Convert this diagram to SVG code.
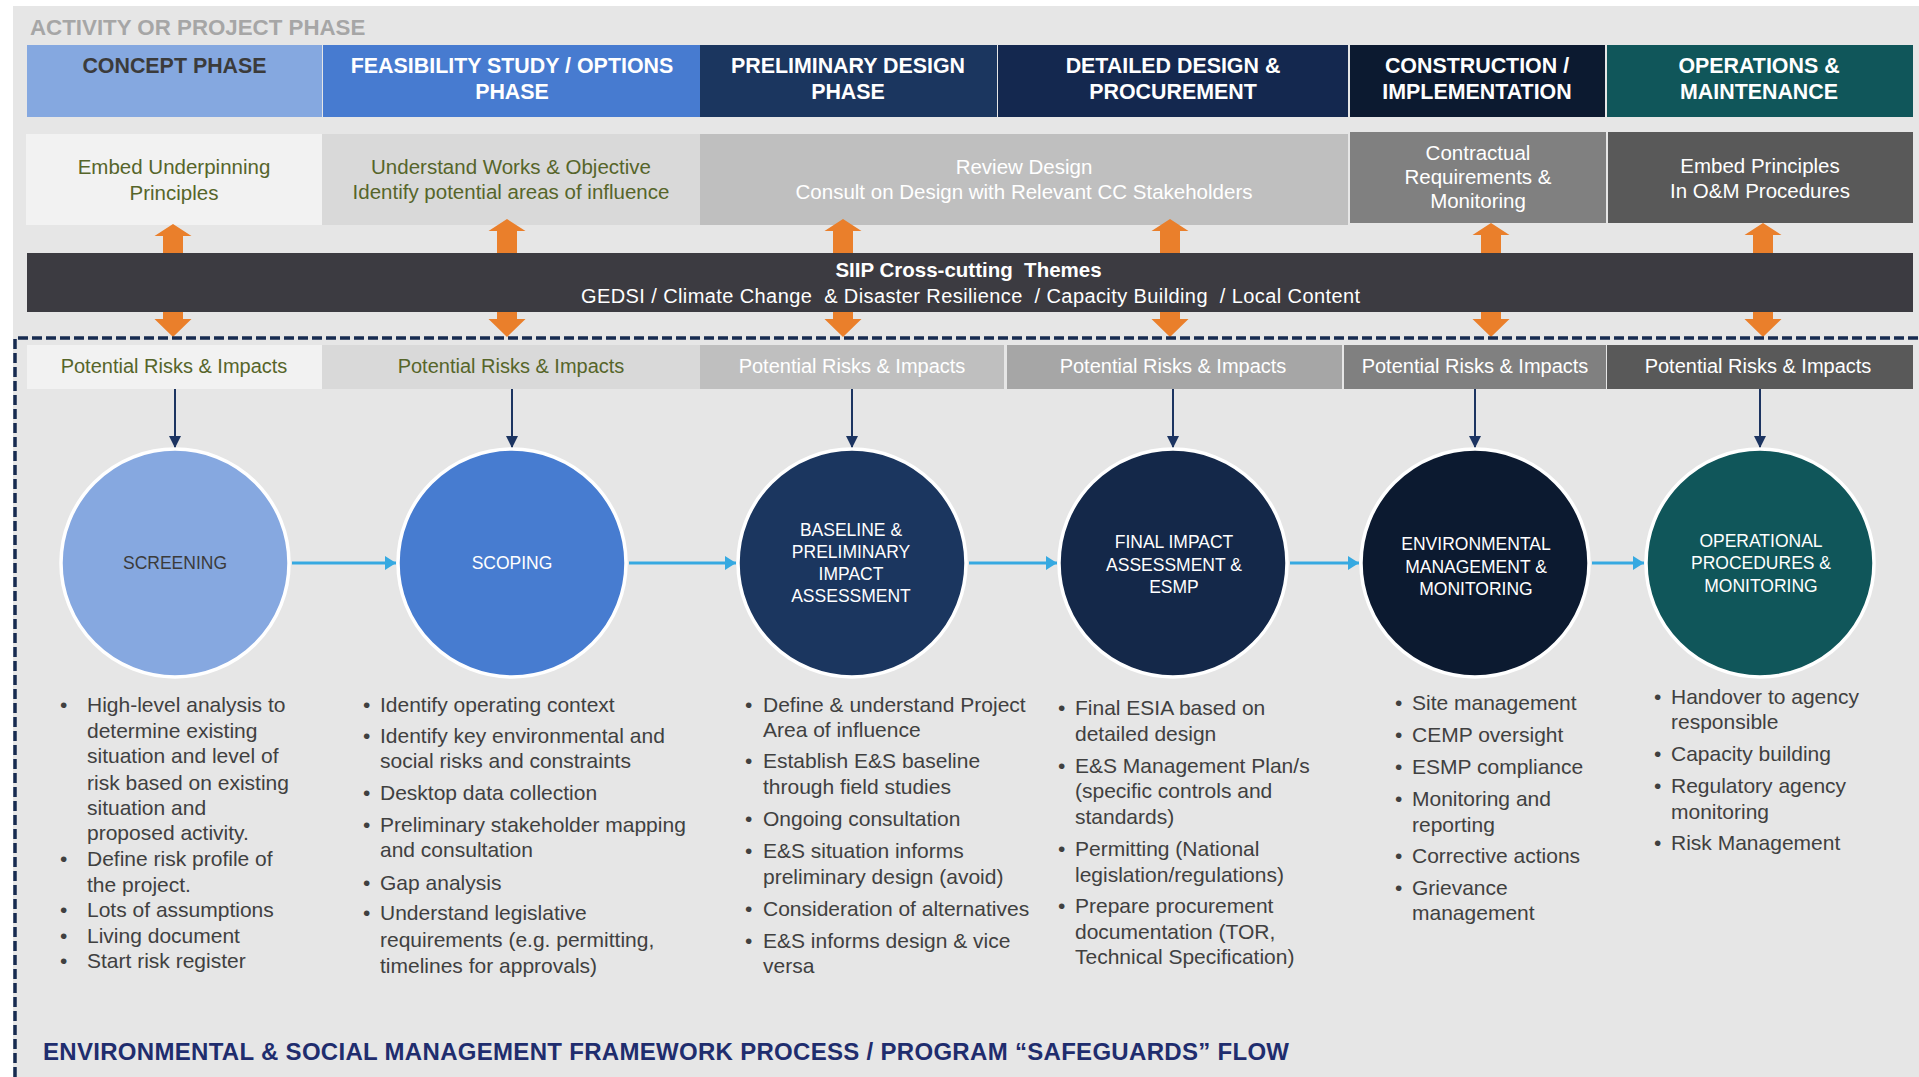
<svg xmlns="http://www.w3.org/2000/svg" width="1919" height="1077" viewBox="0 0 1919 1077">
  <defs>
    <style>
      text { font-family: "Liberation Sans", Arial, sans-serif; }
      .title { font-size: 22.3px; font-weight: bold; fill: #a6a6a6; }
      .hdr { font-size: 21.4px; font-weight: bold; fill: #ffffff; text-anchor: middle; }
      .hdr.dark { fill: #3b3b3b; }
      .act { font-size: 20.5px; text-anchor: middle; fill: #ffffff; }
      .act.olive { fill: #56652a; }
      .risk { font-size: 20px; text-anchor: middle; fill: #ffffff; }
      .risk.olive { fill: #56652a; }
      .band-h { font-size: 20.5px; font-weight: bold; fill: #ffffff; text-anchor: middle; }
      .band-t { font-size: 20px; fill: #ffffff; text-anchor: middle; }
      .stage { font-size: 17.5px; fill: #ffffff; text-anchor: middle; }
      .stage.dark { fill: #3b3b3b; }
      .ring { stroke: #ffffff; stroke-width: 3.5; }
      .bl { font-size: 21px; fill: #404040; }
      .foot { font-size: 24px; font-weight: bold; fill: #1f2d6e; }
      .theme-arrow { fill: #ea7f2b; }
      .feed { stroke: #1c3461; stroke-width: 2; fill: none; }
      .flow { stroke: #36a9e1; stroke-width: 3; fill: none; }
      .frame { stroke: #172b50; stroke-width: 3.5; stroke-dasharray: 10 4; fill: none; }
    </style>
    <marker id="navyHead" markerUnits="userSpaceOnUse" markerWidth="12" markerHeight="14" refX="12" refY="6" orient="auto">
      <path d="M0,0 L12,6 L0,12 Z" fill="#1c3461"/>
    </marker>
    <marker id="blueHead" markerUnits="userSpaceOnUse" markerWidth="12" markerHeight="14" refX="11" refY="7" orient="auto">
      <path d="M0,0 L11,7 L0,14 Z" fill="#36a9e1"/>
    </marker>
  </defs>

  <!-- page background -->
  <rect x="0" y="0" width="1919" height="1077" fill="#ffffff"/>
  <rect x="13" y="6" width="1906" height="1071" fill="#e6e6e6"/>

  <text class="title" x="30" y="35">ACTIVITY OR PROJECT PHASE</text>

  <!-- phase header row -->
  <g id="phases">
    <g id="phase-concept">
      <rect x="27" y="45" width="295" height="72" fill="#85a8e0"/>
      <text class="hdr dark" x="174.5" y="73">CONCEPT PHASE</text>
    </g>
    <g id="phase-feasibility">
      <rect x="323" y="45" width="377" height="72" fill="#477bd0"/>
      <text class="hdr" x="512" y="73">FEASIBILITY STUDY / OPTIONS</text>
      <text class="hdr" x="512" y="99">PHASE</text>
    </g>
    <g id="phase-preliminary">
      <rect x="700" y="45" width="297" height="72" fill="#1b365f"/>
      <text class="hdr" x="848" y="73">PRELIMINARY DESIGN</text>
      <text class="hdr" x="848" y="99">PHASE</text>
    </g>
    <g id="phase-detailed">
      <rect x="998" y="45" width="350" height="72" fill="#14284f"/>
      <text class="hdr" x="1173" y="73">DETAILED DESIGN &amp;</text>
      <text class="hdr" x="1173" y="99">PROCUREMENT</text>
    </g>
    <g id="phase-construction">
      <rect x="1350" y="45" width="255" height="72" fill="#0c1a30"/>
      <text class="hdr" x="1477" y="73">CONSTRUCTION /</text>
      <text class="hdr" x="1477" y="99">IMPLEMENTATION</text>
    </g>
    <g id="phase-operations">
      <rect x="1607" y="45" width="306" height="72" fill="#10565a"/>
      <text class="hdr" x="1759" y="73">OPERATIONS &amp;</text>
      <text class="hdr" x="1759" y="99">MAINTENANCE</text>
    </g>
  </g>

  <!-- activity row -->
  <g id="activities">
    <g id="act-concept">
      <rect x="26" y="134" width="296" height="91" fill="#f2f2f2"/>
      <text class="act olive" x="174" y="174">Embed Underpinning</text>
      <text class="act olive" x="174" y="200">Principles</text>
    </g>
    <g id="act-feasibility">
      <rect x="322" y="134" width="378" height="91" fill="#d9d9d9"/>
      <text class="act olive" x="511" y="174">Understand Works &amp; Objective</text>
      <text class="act olive" x="511" y="199">Identify potential areas of influence</text>
    </g>
    <g id="act-design">
      <rect x="700" y="134" width="648" height="91" fill="#bfbfbf"/>
      <text class="act" x="1024" y="174">Review Design</text>
      <text class="act" x="1024" y="199">Consult on Design with Relevant CC Stakeholders</text>
    </g>
    <g id="act-construction">
      <rect x="1350" y="132" width="256" height="91" fill="#808080"/>
      <text class="act" x="1478" y="160">Contractual</text>
      <text class="act" x="1478" y="184">Requirements &amp;</text>
      <text class="act" x="1478" y="208">Monitoring</text>
    </g>
    <g id="act-operations">
      <rect x="1608" y="132" width="305" height="91" fill="#595959"/>
      <text class="act" x="1760" y="173">Embed Principles</text>
      <text class="act" x="1760" y="198">In O&amp;M Procedures</text>
    </g>
  </g>

  <!-- cross-cutting themes band with its two-way links -->
  <g id="themes">
    <g id="theme-links">
      <path class="theme-arrow" d="M173,224 L191.5,236 L183,236 L183,253 L163,253 L163,236 L154.5,236 Z M163,312 L183,312 L183,319 L191.5,319 L173,337 L154.5,319 L163,319 Z"/>
      <path class="theme-arrow" d="M507,219 L525.5,231 L517,231 L517,253 L497,253 L497,231 L488.5,231 Z M497,312 L517,312 L517,319 L525.5,319 L507,337 L488.5,319 L497,319 Z"/>
      <path class="theme-arrow" d="M843,219 L861.5,231 L853,231 L853,253 L833,253 L833,231 L824.5,231 Z M833,312 L853,312 L853,319 L861.5,319 L843,337 L824.5,319 L833,319 Z"/>
      <path class="theme-arrow" d="M1170,219 L1188.5,231 L1180,231 L1180,253 L1160,253 L1160,231 L1151.5,231 Z M1160,312 L1180,312 L1180,319 L1188.5,319 L1170,337 L1151.5,319 L1160,319 Z"/>
      <path class="theme-arrow" d="M1491,223 L1509.5,235 L1501,235 L1501,253 L1481,253 L1481,235 L1472.5,235 Z M1481,312 L1501,312 L1501,319 L1509.5,319 L1491,337 L1472.5,319 L1481,319 Z"/>
      <path class="theme-arrow" d="M1763,223 L1781.5,235 L1773,235 L1773,253 L1753,253 L1753,235 L1744.5,235 Z M1753,312 L1773,312 L1773,319 L1781.5,319 L1763,337 L1744.5,319 L1753,319 Z"/>
    </g>
    <rect x="27" y="253" width="1886" height="59" fill="#3c3b41"/>
    <text class="band-h" x="968.5" y="277" xml:space="preserve">SIIP Cross-cutting  Themes</text>
    <text class="band-t" x="970.5" y="303" textLength="779" lengthAdjust="spacing" xml:space="preserve">GEDSI / Climate Change  &amp; Disaster Resilience  / Capacity Building  / Local Content</text>
  </g>

  <!-- safeguards process frame -->
  <path class="frame" d="M15,1077 L15,338 L1919,338"/>

  <!-- risk row -->
  <g id="risks">
    <g id="risk-concept">
      <rect x="27" y="345" width="295" height="44" fill="#f2f2f2"/>
      <text class="risk olive" x="174" y="373">Potential Risks &amp; Impacts</text>
    </g>
    <g id="risk-feasibility">
      <rect x="322" y="345" width="378" height="44" fill="#d9d9d9"/>
      <text class="risk olive" x="511" y="373">Potential Risks &amp; Impacts</text>
    </g>
    <g id="risk-preliminary">
      <rect x="700" y="345" width="304" height="44" fill="#bfbfbf"/>
      <text class="risk" x="852" y="373">Potential Risks &amp; Impacts</text>
    </g>
    <g id="risk-detailed">
      <rect x="1007" y="345" width="335" height="44" fill="#a6a6a6"/>
      <text class="risk" x="1173" y="373">Potential Risks &amp; Impacts</text>
    </g>
    <g id="risk-construction">
      <rect x="1344" y="345" width="262" height="44" fill="#808080"/>
      <text class="risk" x="1475" y="373">Potential Risks &amp; Impacts</text>
    </g>
    <g id="risk-operations">
      <rect x="1607" y="345" width="306" height="44" fill="#595959"/>
      <text class="risk" x="1758" y="373">Potential Risks &amp; Impacts</text>
    </g>
  </g>

  <!-- connectors: risk feeds and stage-to-stage flow -->
  <g id="connectors">
    <line class="feed" x1="175" y1="389" x2="175" y2="448" marker-end="url(#navyHead)"/>
    <line class="feed" x1="512" y1="389" x2="512" y2="448" marker-end="url(#navyHead)"/>
    <line class="feed" x1="852" y1="389" x2="852" y2="448" marker-end="url(#navyHead)"/>
    <line class="feed" x1="1173" y1="389" x2="1173" y2="448" marker-end="url(#navyHead)"/>
    <line class="feed" x1="1475" y1="389" x2="1475" y2="448" marker-end="url(#navyHead)"/>
    <line class="feed" x1="1760" y1="389" x2="1760" y2="448" marker-end="url(#navyHead)"/>

    <line class="flow" x1="292" y1="563" x2="396" y2="563" marker-end="url(#blueHead)"/>
    <line class="flow" x1="629" y1="563" x2="736" y2="563" marker-end="url(#blueHead)"/>
    <line class="flow" x1="969" y1="563" x2="1057" y2="563" marker-end="url(#blueHead)"/>
    <line class="flow" x1="1290" y1="563" x2="1359" y2="563" marker-end="url(#blueHead)"/>
    <line class="flow" x1="1592" y1="563" x2="1644" y2="563" marker-end="url(#blueHead)"/>
  </g>

  <!-- process stages -->
  <g id="stage-screening">
    <circle class="ring" cx="175" cy="563" r="114" fill="#86a8e0"/>
    <text class="stage dark" x="175" y="569">SCREENING</text>
  </g>
  <g id="stage-scoping">
    <circle class="ring" cx="512" cy="563" r="114" fill="#477cd0"/>
    <text class="stage" x="512" y="569">SCOPING</text>
  </g>
  <g id="stage-baseline">
    <circle class="ring" cx="852" cy="563" r="114" fill="#1b365f"/>
    <text class="stage" x="851" y="536">BASELINE &amp;</text>
    <text class="stage" x="851" y="558">PRELIMINARY</text>
    <text class="stage" x="851" y="580">IMPACT</text>
    <text class="stage" x="851" y="602">ASSESSMENT</text>
  </g>
  <g id="stage-final">
    <circle class="ring" cx="1173" cy="563" r="114" fill="#142849"/>
    <text class="stage" x="1174" y="548">FINAL IMPACT</text>
    <text class="stage" x="1174" y="571">ASSESSMENT &amp;</text>
    <text class="stage" x="1174" y="593">ESMP</text>
  </g>
  <g id="stage-emm">
    <circle class="ring" cx="1475" cy="563" r="114" fill="#0c1a30"/>
    <text class="stage" x="1476" y="550">ENVIRONMENTAL</text>
    <text class="stage" x="1476" y="573">MANAGEMENT &amp;</text>
    <text class="stage" x="1476" y="595">MONITORING</text>
  </g>
  <g id="stage-operational">
    <circle class="ring" cx="1760" cy="563" r="114" fill="#10565a"/>
    <text class="stage" x="1761" y="547">OPERATIONAL</text>
    <text class="stage" x="1761" y="569">PROCEDURES &amp;</text>
    <text class="stage" x="1761" y="592">MONITORING</text>
  </g>

  <!-- stage task lists -->
  <g id="tasks-screening">
    <text class="bl" x="60" y="712">•</text>
    <text class="bl" x="87" y="712">High-level analysis to</text>
    <text class="bl" x="87" y="738">determine existing</text>
    <text class="bl" x="87" y="763">situation and level of</text>
    <text class="bl" x="87" y="790">risk based on existing</text>
    <text class="bl" x="87" y="815">situation and</text>
    <text class="bl" x="87" y="840">proposed activity.</text>
    <text class="bl" x="60" y="866">•</text>
    <text class="bl" x="87" y="866">Define risk profile of</text>
    <text class="bl" x="87" y="892">the project.</text>
    <text class="bl" x="60" y="917">•</text>
    <text class="bl" x="87" y="917">Lots of assumptions</text>
    <text class="bl" x="60" y="943">•</text>
    <text class="bl" x="87" y="943">Living document</text>
    <text class="bl" x="60" y="968">•</text>
    <text class="bl" x="87" y="968">Start risk register</text>
  </g>
  <g id="tasks-scoping">
    <text class="bl" x="363" y="712">•</text>
    <text class="bl" x="380" y="712">Identify operating context</text>
    <text class="bl" x="363" y="743">•</text>
    <text class="bl" x="380" y="743">Identify key environmental and</text>
    <text class="bl" x="380" y="768">social risks and constraints</text>
    <text class="bl" x="363" y="800">•</text>
    <text class="bl" x="380" y="800">Desktop data collection</text>
    <text class="bl" x="363" y="832">•</text>
    <text class="bl" x="380" y="832">Preliminary stakeholder mapping</text>
    <text class="bl" x="380" y="857">and consultation</text>
    <text class="bl" x="363" y="890">•</text>
    <text class="bl" x="380" y="890">Gap analysis</text>
    <text class="bl" x="363" y="920">•</text>
    <text class="bl" x="380" y="920">Understand legislative</text>
    <text class="bl" x="380" y="947">requirements (e.g. permitting,</text>
    <text class="bl" x="380" y="973">timelines for approvals)</text>
  </g>
  <g id="tasks-baseline">
    <text class="bl" x="745" y="712">•</text>
    <text class="bl" x="763" y="712">Define &amp; understand Project</text>
    <text class="bl" x="763" y="737">Area of influence</text>
    <text class="bl" x="745" y="768">•</text>
    <text class="bl" x="763" y="768">Establish E&amp;S baseline</text>
    <text class="bl" x="763" y="794">through field studies</text>
    <text class="bl" x="745" y="826">•</text>
    <text class="bl" x="763" y="826">Ongoing consultation</text>
    <text class="bl" x="745" y="858">•</text>
    <text class="bl" x="763" y="858">E&amp;S situation informs</text>
    <text class="bl" x="763" y="884">preliminary design (avoid)</text>
    <text class="bl" x="745" y="916">•</text>
    <text class="bl" x="763" y="916">Consideration of alternatives</text>
    <text class="bl" x="745" y="948">•</text>
    <text class="bl" x="763" y="948">E&amp;S informs design &amp; vice</text>
    <text class="bl" x="763" y="973">versa</text>
  </g>
  <g id="tasks-final">
    <text class="bl" x="1058" y="715">•</text>
    <text class="bl" x="1075" y="715">Final ESIA based on</text>
    <text class="bl" x="1075" y="741">detailed design</text>
    <text class="bl" x="1058" y="773">•</text>
    <text class="bl" x="1075" y="773">E&amp;S Management Plan/s</text>
    <text class="bl" x="1075" y="798">(specific controls and</text>
    <text class="bl" x="1075" y="824">standards)</text>
    <text class="bl" x="1058" y="856">•</text>
    <text class="bl" x="1075" y="856">Permitting (National</text>
    <text class="bl" x="1075" y="882">legislation/regulations)</text>
    <text class="bl" x="1058" y="913">•</text>
    <text class="bl" x="1075" y="913">Prepare procurement</text>
    <text class="bl" x="1075" y="939">documentation (TOR,</text>
    <text class="bl" x="1075" y="964">Technical Specification)</text>
  </g>
  <g id="tasks-emm">
    <text class="bl" x="1395" y="710">•</text>
    <text class="bl" x="1412" y="710">Site management</text>
    <text class="bl" x="1395" y="742">•</text>
    <text class="bl" x="1412" y="742">CEMP oversight</text>
    <text class="bl" x="1395" y="774">•</text>
    <text class="bl" x="1412" y="774">ESMP compliance</text>
    <text class="bl" x="1395" y="806">•</text>
    <text class="bl" x="1412" y="806">Monitoring and</text>
    <text class="bl" x="1412" y="832">reporting</text>
    <text class="bl" x="1395" y="863">•</text>
    <text class="bl" x="1412" y="863">Corrective actions</text>
    <text class="bl" x="1395" y="895">•</text>
    <text class="bl" x="1412" y="895">Grievance</text>
    <text class="bl" x="1412" y="920">management</text>
  </g>
  <g id="tasks-operational">
    <text class="bl" x="1654" y="704">•</text>
    <text class="bl" x="1671" y="704">Handover to agency</text>
    <text class="bl" x="1671" y="729">responsible</text>
    <text class="bl" x="1654" y="761">•</text>
    <text class="bl" x="1671" y="761">Capacity building</text>
    <text class="bl" x="1654" y="793">•</text>
    <text class="bl" x="1671" y="793">Regulatory agency</text>
    <text class="bl" x="1671" y="819">monitoring</text>
    <text class="bl" x="1654" y="850">•</text>
    <text class="bl" x="1671" y="850">Risk Management</text>
  </g>

  <text class="foot" x="43" y="1060" textLength="1246" lengthAdjust="spacing">ENVIRONMENTAL &amp; SOCIAL MANAGEMENT FRAMEWORK PROCESS / PROGRAM “SAFEGUARDS” FLOW</text>
</svg>
